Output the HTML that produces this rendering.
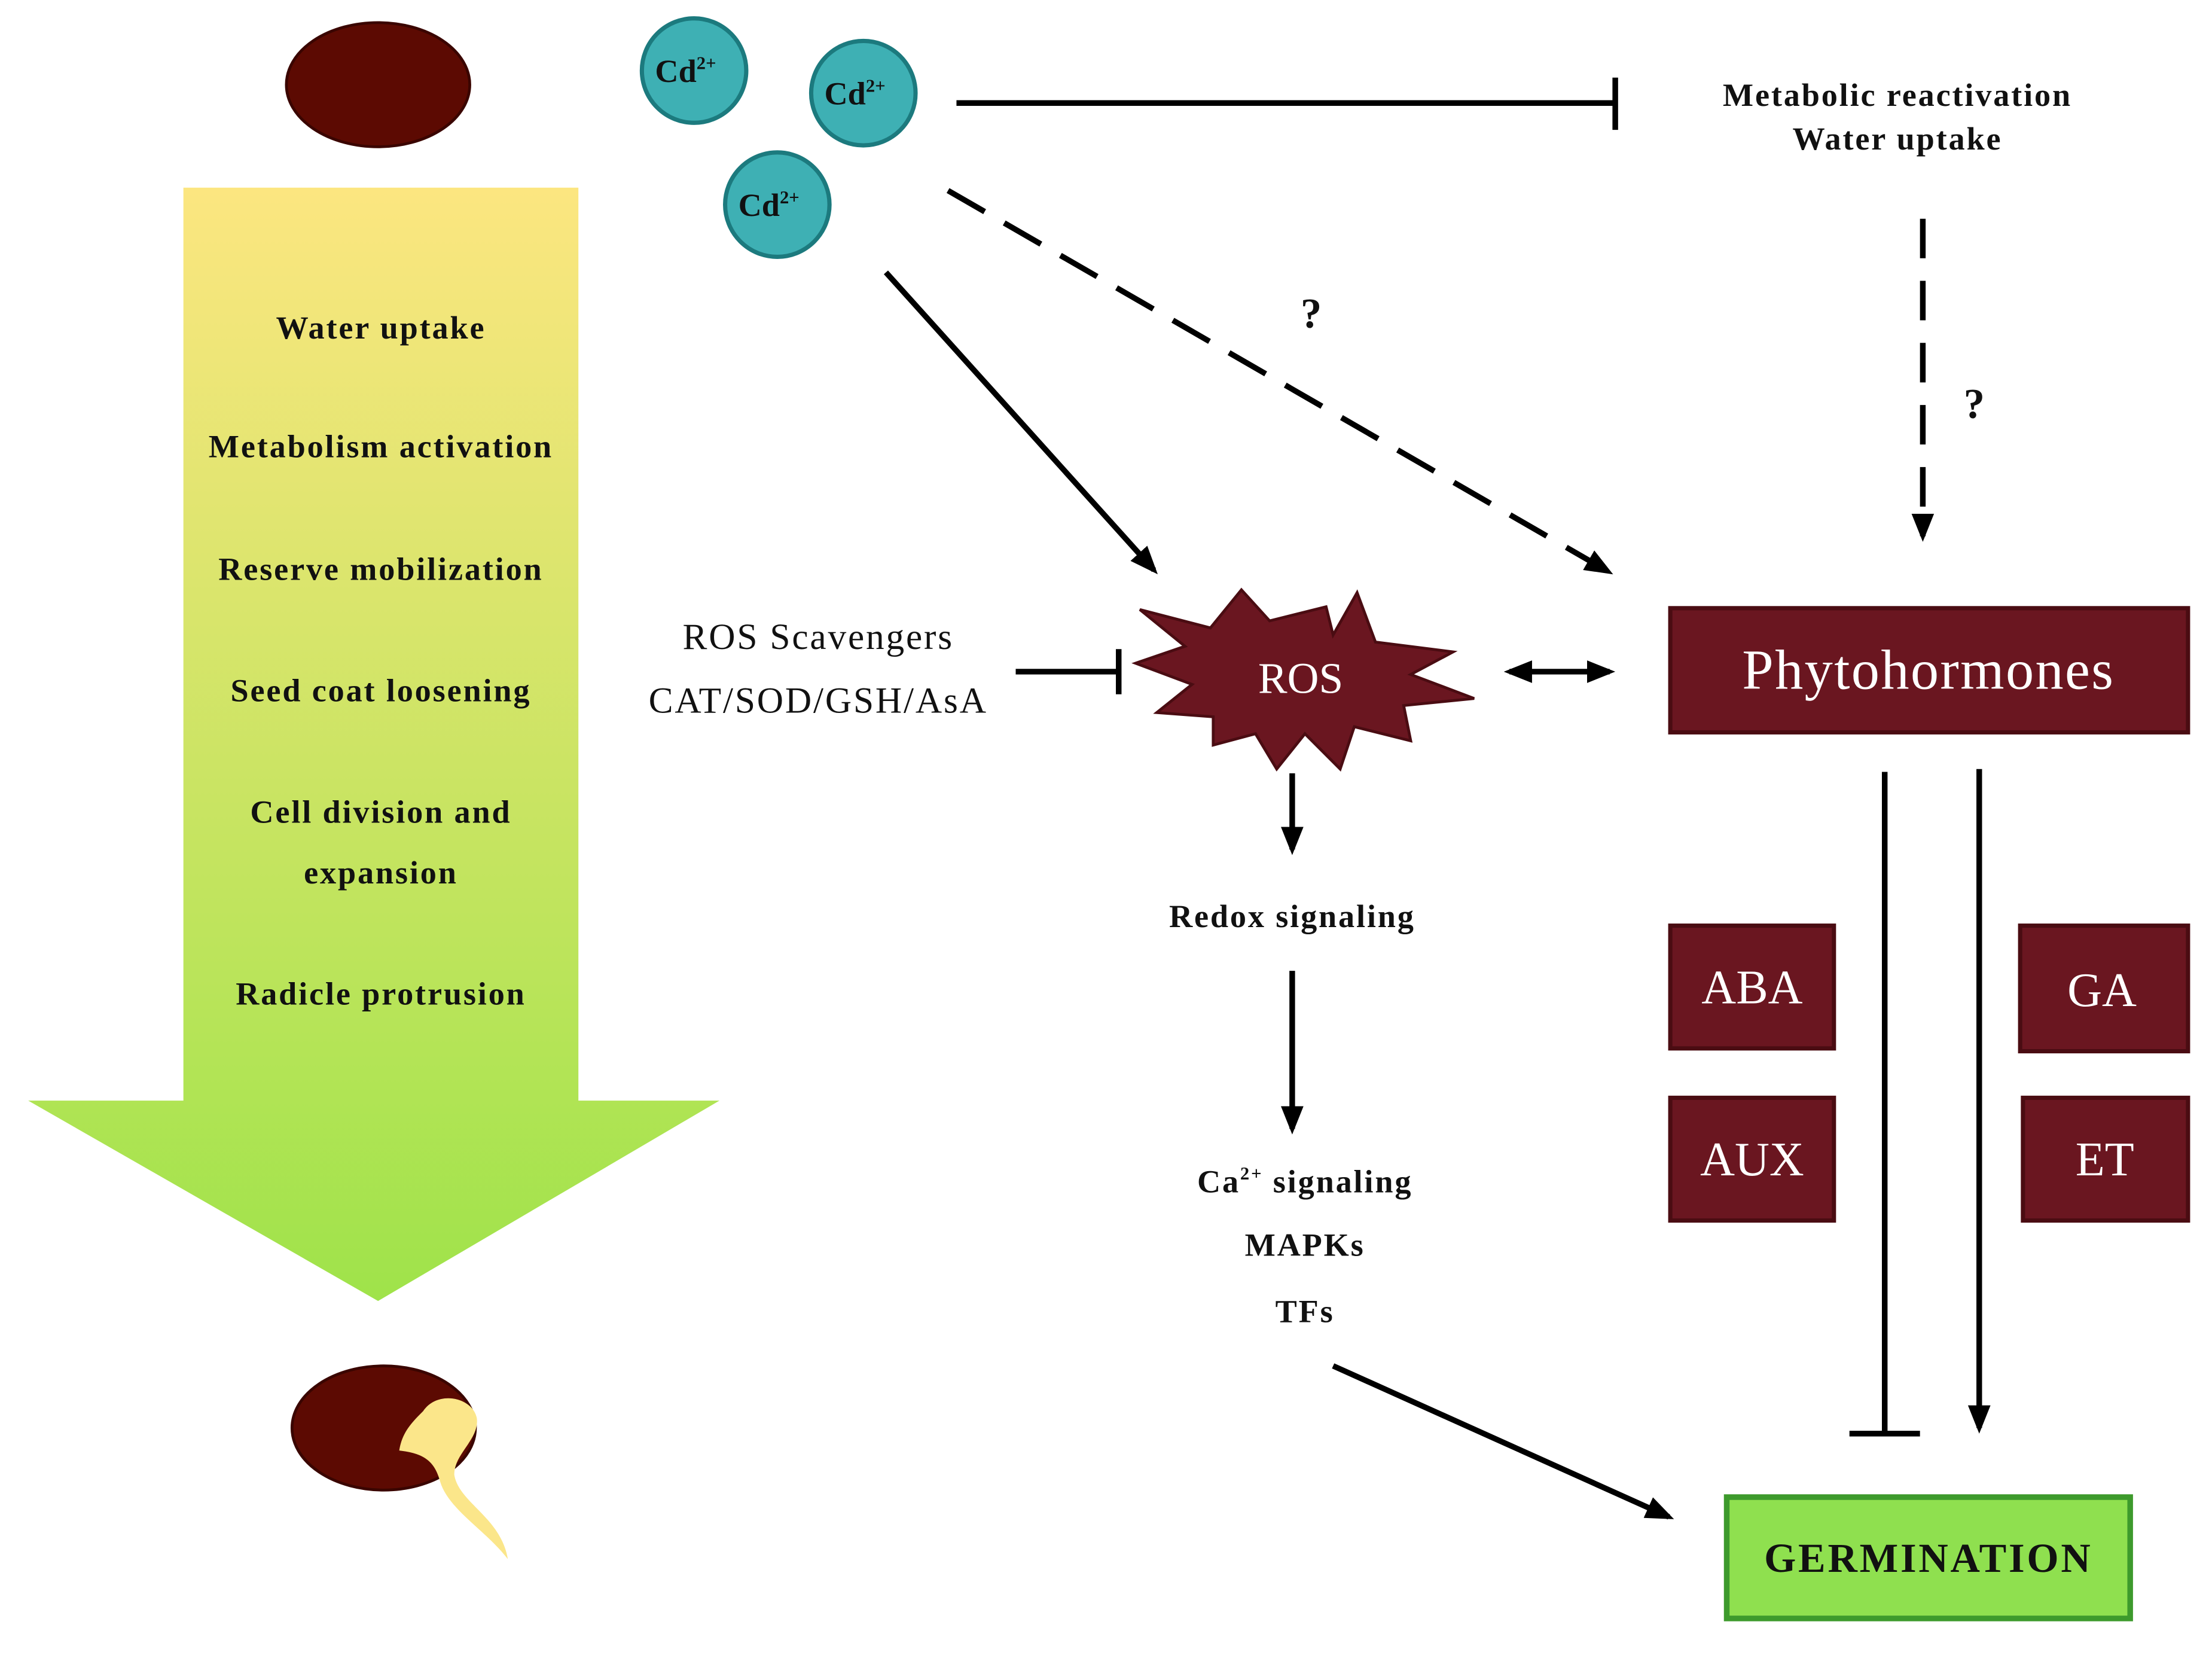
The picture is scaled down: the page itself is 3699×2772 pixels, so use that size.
<!DOCTYPE html>
<html><head><meta charset="utf-8"><style>
html,body{margin:0;padding:0;background:#fff}
svg{display:block}
text{font-family:"Liberation Serif",serif}
</style></head><body>
<svg width="3699" height="2772" viewBox="0 0 1568 1175" xmlns="http://www.w3.org/2000/svg">
<defs>
<linearGradient id="g" x1="0" y1="0" x2="0" y2="1">
<stop offset="0" stop-color="#fce680"/><stop offset="1" stop-color="#9fe34a"/>
</linearGradient>
<marker id="ah2" markerWidth="20" markerHeight="20" refX="16" refY="10" orient="auto-start-reverse" markerUnits="userSpaceOnUse" viewBox="0 0 20 20">
<path d="M0,2 L20,10 L0,18 z" fill="#000"/></marker>
</defs>
<rect width="1568" height="1175" fill="#fff"/>
<ellipse cx="268" cy="60" rx="65" ry="44" fill="#5c0a02" stroke="#3a0500" stroke-width="2"/>
<path d="M130,133 H410 V780 H510 L268,922 L20,780 H130 Z" fill="url(#g)"/>
<g font-weight="bold" font-size="23" letter-spacing="1.2" text-anchor="middle" fill="#111">
<text x="270" y="240">Water uptake</text>
<text x="270" y="324">Metabolism activation</text>
<text x="270" y="411">Reserve mobilization</text>
<text x="270" y="497">Seed coat loosening</text>
<text x="270" y="583">Cell division and</text>
<text x="270" y="626">expansion</text>
<text x="270" y="712">Radicle protrusion</text>
</g>
<ellipse cx="272" cy="1012" rx="65" ry="44" fill="#5c0a02" stroke="#3a0500" stroke-width="2"/>
<path d="M300,1000 C310,985 335,990 338,1005 C340,1020 322,1030 322,1045 C325,1065 355,1075 360,1105 C345,1085 318,1070 312,1050 C308,1035 300,1030 283,1028 C285,1015 292,1008 300,1000 Z" fill="#fbe68a"/>
<g fill="#3eb0b4" stroke="#1c7a7e" stroke-width="3">
<circle cx="492" cy="50" r="37"/><circle cx="612" cy="66" r="37"/><circle cx="551" cy="145" r="37"/>
</g>
<g font-weight="bold" font-size="23" text-anchor="middle" fill="#111">
<text x="486" y="58">Cd<tspan font-size="13" dy="-9">2+</tspan></text>
<text x="606" y="74">Cd<tspan font-size="13" dy="-9">2+</tspan></text>
<text x="545" y="153">Cd<tspan font-size="13" dy="-9">2+</tspan></text>
</g>
<g stroke="#000" stroke-width="4" fill="none">
<line x1="678" y1="73" x2="1145" y2="73"/><line x1="1145" y1="55" x2="1145" y2="92"/>
<line x1="1363" y1="155" x2="1363" y2="380" stroke-dasharray="28,16" marker-end="url(#ah2)"/>
<line x1="672" y1="135" x2="1140" y2="405" stroke-dasharray="30,16" marker-end="url(#ah2)"/>
<line x1="628" y1="193" x2="818" y2="404" marker-end="url(#ah2)"/>
<line x1="720" y1="476" x2="793" y2="476"/><line x1="793" y1="460" x2="793" y2="492"/>
<line x1="1070" y1="476" x2="1141" y2="476" marker-start="url(#ah2)" marker-end="url(#ah2)"/>
<line x1="916" y1="548" x2="916" y2="602" marker-end="url(#ah2)"/>
<line x1="916" y1="688" x2="916" y2="800" marker-end="url(#ah2)"/>
<line x1="945" y1="968" x2="1183" y2="1075" marker-end="url(#ah2)"/>
<line x1="1336" y1="547" x2="1336" y2="1016"/><line x1="1311" y1="1016" x2="1361" y2="1016"/>
<line x1="1403" y1="545" x2="1403" y2="1012" marker-end="url(#ah2)"/>
</g>
<g font-weight="bold" font-size="23" letter-spacing="1.2" text-anchor="middle" fill="#111">
<text x="1345" y="75">Metabolic reactivation</text>
<text x="1345" y="106">Water uptake</text>
<text x="1400" y="296" font-size="30">?</text>
<text x="930" y="232" font-size="30">?</text>
<text x="916" y="657">Redox signaling</text>
<text x="925" y="845">Ca<tspan font-size="13" dy="-9">2+</tspan><tspan dy="9"> signaling</tspan></text>
<text x="925" y="890">MAPKs</text>
<text x="925" y="937">TFs</text>
</g>
<g font-size="26" letter-spacing="1.2" text-anchor="middle" fill="#111">
<text x="580" y="460">ROS Scavengers</text>
<text x="580" y="505">CAT/SOD/GSH/AsA</text>
</g>
<polygon points="808,432 858,445 880,418 900,440 940,430 945,450 962,420 975,455 1030,462 1000,478 1045,495 995,500 1000,525 960,515 950,545 925,520 905,545 890,520 860,528 860,508 820,505 845,485 805,470 840,458" fill="#6a1620" stroke="#4a0c12" stroke-width="2"/>
<text x="922" y="491" font-size="31" text-anchor="middle" fill="#fff">ROS</text>
<g fill="#6a1620" stroke="#4a0c12" stroke-width="3">
<rect x="1184" y="431" width="367" height="88"/>
<rect x="1184" y="656" width="116" height="87"/>
<rect x="1432" y="656" width="119" height="89"/>
<rect x="1184" y="778" width="116" height="87"/>
<rect x="1434" y="778" width="117" height="87"/>
</g>
<g font-size="34" text-anchor="middle" fill="#fff">
<text x="1367" y="488" font-size="40" letter-spacing="1">Phytohormones</text>
<text x="1242" y="711">ABA</text>
<text x="1490" y="713">GA</text>
<text x="1242" y="833">AUX</text>
<text x="1492" y="833">ET</text>
</g>
<rect x="1224" y="1061" width="286" height="86" fill="#8fe04f" stroke="#3d9a2c" stroke-width="4"/>
<text x="1367" y="1114" font-size="29" letter-spacing="1.6" font-weight="bold" text-anchor="middle" fill="#111">GERMINATION</text>
</svg>
</body></html>
